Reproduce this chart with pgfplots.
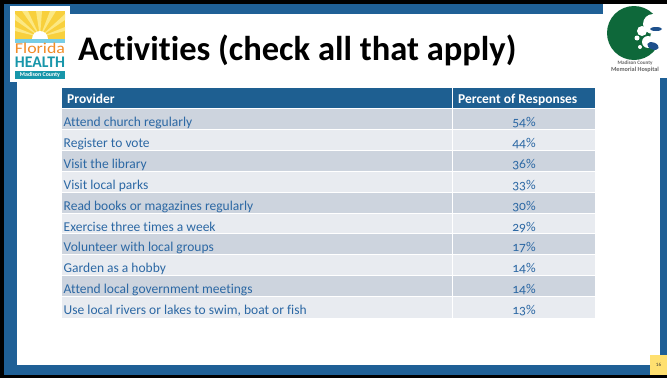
\documentclass[border=0pt]{standalone}
\usepackage{fontspec}
\setmainfont{Carlito}[Ligatures=NoCommon]
\usepackage{graphicx}
\usepackage{pgfplots}
\usepackage{pgfplotstable}
\pgfplotsset{compat=1.18}
\definecolor{frameblue}{RGB}{31,96,150}
\definecolor{headblue}{RGB}{30,95,145}
\definecolor{rowdark}{RGB}{205,212,222}
\definecolor{rowlight}{RGB}{232,235,240}
\definecolor{tabtext}{RGB}{44,104,164}
\definecolor{sunyellow}{RGB}{248,208,60}
\definecolor{sunlight}{RGB}{252,232,130}
\definecolor{water}{RGB}{120,205,230}
\definecolor{flaorange}{RGB}{242,140,40}
\definecolor{flateal}{RGB}{24,150,170}
\definecolor{hospgreen}{RGB}{14,104,58}
\definecolor{hospblue}{RGB}{30,80,140}
\definecolor{pageyellow}{RGB}{255,224,112}

\pgfplotstableread[col sep=semicolon]{
y;pct;name
126.5;54;Attend church regularly
147.4;44;Register to vote
168.3;36;Visit the library
189.2;33;Visit local parks
210.1;30;Read books or magazines regularly
231.0;29;Exercise three times a week
251.9;17;Volunteer with local groups
272.8;14;Garden as a hobby
293.7;14;Attend local government meetings
314.6;13;Use local rivers or lakes to swim, boat or fish
}\datatable

\begin{document}
\begin{tikzpicture}
\begin{axis}[
  scale only axis, width=667pt, height=378pt,
  xmin=0, xmax=667, ymin=0, ymax=378, y dir=reverse,
  hide axis,
]
% frame
\fill[black] (axis cs:0,0) rectangle (axis cs:667,378);
\fill[frameblue] (axis cs:4,4) rectangle (axis cs:667,375);
\fill[white] (axis cs:17,14) rectangle (axis cs:660,365);
% page number
\fill[pageyellow] (axis cs:650,355) rectangle (axis cs:667,375);
\node[font=\fontsize{5}{6}\selectfont, text=black!80] at (axis cs:658.5,365) {16};

% Florida logo
\fill[white] (axis cs:10,6) rectangle (axis cs:70,82);
\fill[sunyellow] (axis cs:15,11) rectangle (axis cs:65,39);
\begin{scope}
\clip (axis cs:15,11) rectangle (axis cs:65,39);
\fill[sunlight] (axis cs:40,37) -- (axis cs:15,14) -- (axis cs:15,20) -- cycle;
\fill[sunlight] (axis cs:40,37) -- (axis cs:22,11) -- (axis cs:28,11) -- cycle;
\fill[sunlight] (axis cs:40,37) -- (axis cs:36,11) -- (axis cs:42,11) -- cycle;
\fill[sunlight] (axis cs:40,37) -- (axis cs:50,11) -- (axis cs:56,11) -- cycle;
\fill[sunlight] (axis cs:40,37) -- (axis cs:65,14) -- (axis cs:65,20) -- cycle;
\fill[sunlight] (axis cs:40,37) -- (axis cs:15,27) -- (axis cs:15,31) -- cycle;
\fill[sunlight] (axis cs:40,37) -- (axis cs:65,27) -- (axis cs:65,31) -- cycle;
\fill[white] (axis cs:40,39) circle[radius=8pt];
\end{scope}
\fill[water] (axis cs:15,39) rectangle (axis cs:65,43);
\node[anchor=center, text=flaorange, inner sep=0pt] at (axis cs:40,48.5)
  {\resizebox{50pt}{10.5pt}{\fontsize{16}{16}\selectfont Florida}};
\node[anchor=center, text=flateal, inner sep=0pt] at (axis cs:40,62.5)
  {\resizebox{50pt}{10.5pt}{\fontsize{16}{16}\selectfont\bfseries HEALTH}};
\fill[flateal] (axis cs:15,71) rectangle (axis cs:65,79);
\node[text=white, inner sep=0pt] at (axis cs:40,75)
  {\resizebox{40pt}{!}{\fontsize{6}{6}\selectfont\bfseries Madison County}};

% Hospital logo
\fill[white] (axis cs:603,4) rectangle (axis cs:667,78);
\fill[hospgreen] (axis cs:634,33) circle[radius=27pt];
\fill[white] (axis cs:653,24) circle[radius=10pt];
\fill[white] (axis cs:659,38) circle[radius=9pt];
\fill[white] (axis cs:648,42) circle[radius=6pt];
\fill[white] (axis cs:642,31) circle[radius=5pt];
\fill[white] (axis cs:637,38) circle[radius=2.5pt];
\fill[white] (axis cs:640,47) circle[radius=2pt];
\fill[hospblue] (axis cs:656,29) ellipse[x radius=6pt, y radius=2pt];
\fill[hospblue, rotate around={-20:(axis cs:653,46)}] (axis cs:653,46) ellipse[x radius=6pt, y radius=3.5pt];
\node[text=black!60, inner sep=0pt] at (axis cs:635,63)
  {\resizebox{35pt}{!}{\fontsize{6}{6}\selectfont\bfseries Madison County}};
\node[text=black!60, inner sep=0pt] at (axis cs:635,70)
  {\resizebox{48pt}{!}{\fontsize{6}{6}\selectfont\bfseries Memorial Hospital}};

% title
\node[anchor=base west, inner sep=0pt, text=black] at (axis cs:78,60)
  {\fontsize{34.5}{38}\selectfont\bfseries Activities (check all that apply)};

% table header
\fill[headblue] (axis cs:62,88) rectangle (axis cs:595,108);
% rows
\fill[rowdark]  (axis cs:62,109.0) rectangle (axis cs:595,128.9);
\fill[rowlight] (axis cs:62,129.9) rectangle (axis cs:595,149.8);
\fill[rowdark]  (axis cs:62,150.8) rectangle (axis cs:595,170.7);
\fill[rowlight] (axis cs:62,171.7) rectangle (axis cs:595,191.6);
\fill[rowdark]  (axis cs:62,192.6) rectangle (axis cs:595,212.5);
\fill[rowlight] (axis cs:62,213.5) rectangle (axis cs:595,233.4);
\fill[rowdark]  (axis cs:62,234.4) rectangle (axis cs:595,254.3);
\fill[rowlight] (axis cs:62,255.3) rectangle (axis cs:595,275.2);
\fill[rowdark]  (axis cs:62,276.2) rectangle (axis cs:595,296.1);
\fill[rowlight] (axis cs:62,297.1) rectangle (axis cs:595,317.5);
\draw[white, line width=1pt] (axis cs:452,88) -- (axis cs:452,318);

\node[anchor=base west, inner sep=0pt, text=white] at (axis cs:67,103)
  {\fontsize{13.5}{16}\selectfont\bfseries Provider};
\node[anchor=base west, inner sep=0pt, text=white] at (axis cs:458,103)
  {\fontsize{13.5}{16}\selectfont\bfseries Percent of Responses};

\addplot[draw=none, mark=none, nodes near coords, point meta=explicit symbolic,
  nodes near coords style={anchor=base west, inner sep=0pt, text=tabtext,
    font=\fontsize{13.5}{16}\selectfont}]
  table[x expr=63.5, y=y, meta=name] {\datatable};
\addplot[draw=none, mark=none, nodes near coords={\pgfplotspointmeta\%},
  point meta=explicit symbolic,
  nodes near coords style={anchor=base, inner sep=0pt, text=tabtext,
    font=\fontsize{13.5}{16}\selectfont\addfontfeatures{Numbers=OldStyle}}]
  table[x expr=524, y=y, meta=pct] {\datatable};
\end{axis}
\end{tikzpicture}
\end{document}
